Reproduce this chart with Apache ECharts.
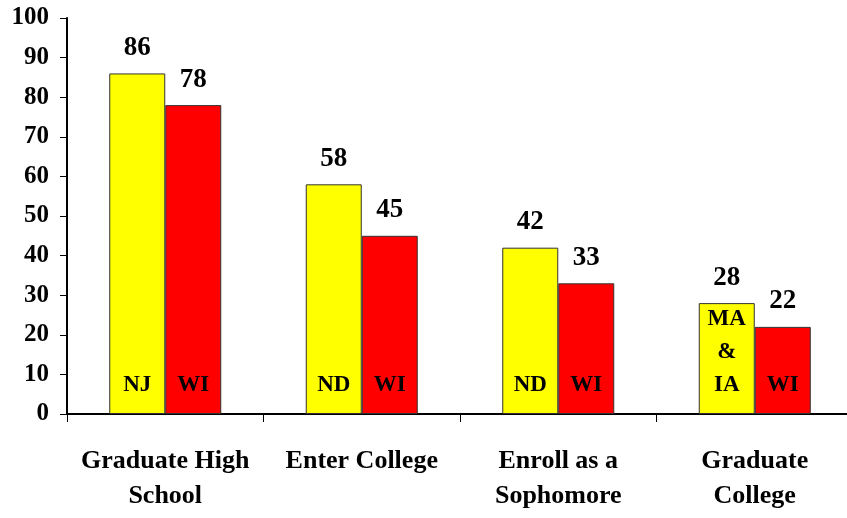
<!DOCTYPE html>
<html>
<head>
<meta charset="utf-8">
<script src="https://cdn.jsdelivr.net/npm/echarts@6/dist/echarts.min.js"></script>
<style>
html,body{margin:0;padding:0;background:#fff;overflow:hidden;}
#chart{width:853px;height:518px;}
</style>
</head>
<body>
<div id="chart"></div>
<script>
var categories = ['Graduate High\nSchool', 'Enter College', 'Enroll as a\nSophomore', 'Graduate\nCollege'];
var bestValues = [86, 58, 42, 28];
var bestStates = ['NJ', 'ND', 'ND', 'MA\n&\nIA'];
var wiValues = [78, 45, 33, 22];
var wiStates = ['WI', 'WI', 'WI', 'WI'];
var yTicks = [0, 10, 20, 30, 40, 50, 60, 70, 80, 90, 100];

var FONT = '"Liberation Serif", "Times New Roman", serif';
var chart = echarts.init(document.getElementById('chart'), null, {renderer: 'canvas'});

function stateSeries(name, values, states, color, stack) {
  return {
    name: name, type: 'bar', stack: stack, barWidth: 56,
    data: values,
    itemStyle: {color: color, borderColor: '#333', borderWidth: 1},
    label: {
      show: true, position: 'insideBottom', distance: 12,
      formatter: function (p) { return states[p.dataIndex]; },
      fontFamily: FONT, fontWeight: 'bold', fontSize: 23, lineHeight: 33, color: '#000'
    },
    silent: true, animation: false
  };
}
function valueSeries(name, values, stack) {
  return {
    name: name + ' value', type: 'bar', stack: stack, barWidth: 56,
    data: values.map(function () { return 0; }),
    itemStyle: {color: 'rgba(0,0,0,0)'},
    label: {
      show: true, position: 'top', distance: 12,
      formatter: function (p) { return String(values[p.dataIndex]); },
      fontFamily: FONT, fontWeight: 'bold', fontSize: 27, color: '#000'
    },
    silent: true, animation: false
  };
}

chart.setOption({
  animation: false,
  grid: {left: 67, right: 0, top: 18, bottom: 104, containLabel: false},
  xAxis: {
    type: 'category', data: categories,
    axisLine: {lineStyle: {color: '#000', width: 2}},
    axisTick: {show: true, alignWithLabel: false, length: 8, lineStyle: {color: '#000', width: 1}},
    axisLabel: {
      interval: 0, margin: 30, fontFamily: FONT, fontWeight: 'bold', fontSize: 26,
      lineHeight: 35, color: '#000'
    },
    splitLine: {show: false}
  },
  yAxis: {
    type: 'value', min: yTicks[0], max: yTicks[yTicks.length - 1], interval: 10,
    axisLine: {show: true, lineStyle: {color: '#000', width: 2}},
    axisTick: {show: true, length: 7, lineStyle: {color: '#000', width: 1}},
    axisLabel: {margin: 18, fontFamily: FONT, fontWeight: 'bold', fontSize: 25, color: '#000'},
    splitLine: {show: false}
  },
  series: [
    stateSeries('Best State', bestValues, bestStates, '#FFFF00', 'a'),
    valueSeries('Best State', bestValues, 'a'),
    stateSeries('Wisconsin', wiValues, wiStates, '#FF0000', 'b'),
    valueSeries('Wisconsin', wiValues, 'b')
  ],
  barGap: 0
});
</script>
</body>
</html>
